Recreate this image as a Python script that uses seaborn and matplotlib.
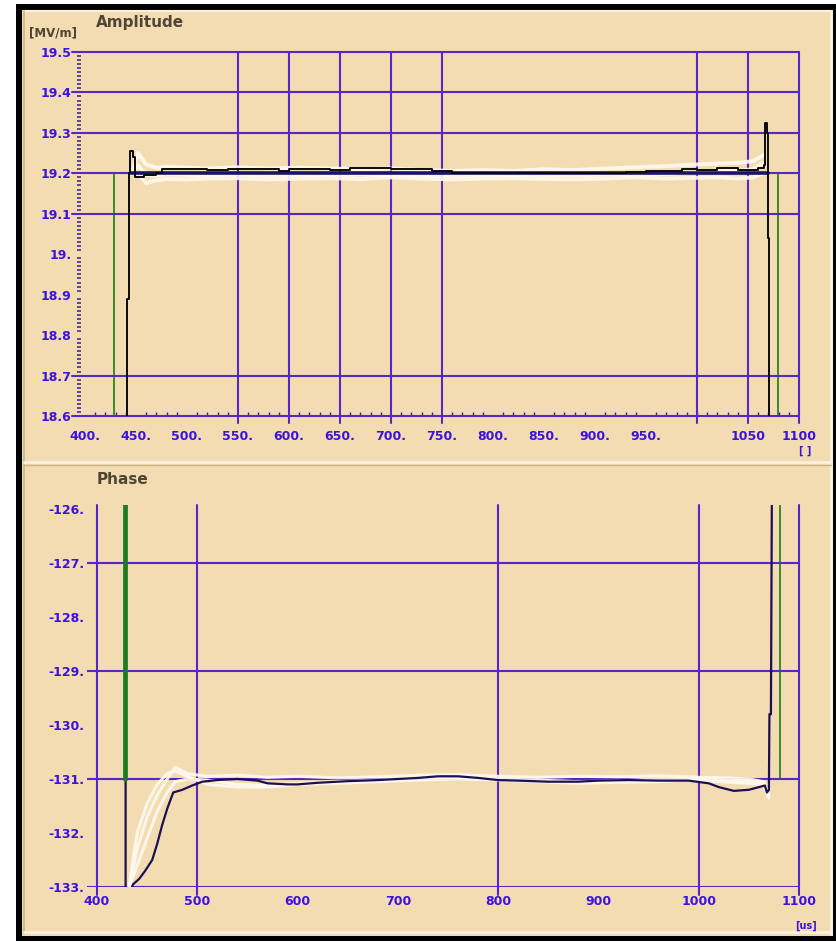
import matplotlib
matplotlib.use("Agg")
import matplotlib.pyplot as plt
from matplotlib.patches import Rectangle
from matplotlib.lines import Line2D
from matplotlib.ticker import MultipleLocator
import seaborn as sns

# ---------------- data ----------------
# Amplitude panel [MV/m] vs time [us]
amp_xticks = [400, 450, 500, 550, 600, 650, 700, 750, 800, 850, 900, 950, 1050, 1100]
amp_xlabels = ["400.", "450.", "500.", "550.", "600.", "650.", "700.", "750.",
               "800.", "850.", "900.", "950.", "1050", "1100"]
amp_yticks = [19.5, 19.4, 19.3, 19.2, 19.1, 19.0, 18.9, 18.8, 18.7, 18.6]
amp_ylabels = ["19.5", "19.4", "19.3", "19.2", "19.1", "19.", "18.9", "18.8", "18.7", "18.6"]
amp_vgrid = [550, 600, 650, 700, 750, 1000, 1050, 1100]
amp_hgrid = [19.5, 19.4, 19.3, 19.2, 19.1, 18.7, 18.6]

amp_set_t = [428.5, 428.5, 1079.5, 1079.5]
amp_set_v = [18.5, 19.2, 19.2, 18.5]

amp_ref_t = [445, 1070]
amp_ref_v = [19.2, 19.2]

amp_meas_t = [441, 441, 443, 444, 447, 449, 458, 470, 476, 520, 540, 590, 600, 640,
              660, 700, 740, 760, 930, 950, 985, 1000, 1020, 1040, 1060, 1066, 1067,
              1069, 1070, 1071]
amp_meas_v = [18.5, 18.89, 19.2, 19.255, 19.24, 19.19, 19.195, 19.2, 19.21, 19.208,
              19.21, 19.207, 19.21, 19.208, 19.212, 19.21, 19.205, 19.2, 19.203,
              19.207, 19.21, 19.208, 19.212, 19.209, 19.213, 19.22, 19.325, 19.3,
              19.04, 18.5]

amp_hist_t = [446, 452, 460, 470, 480, 500, 520, 550, 580, 610, 640, 670, 700, 730,
              760, 790, 820, 850, 880, 910, 940, 970, 1000, 1020, 1040, 1055, 1065]
amp_hist_1 = [19.2, 19.25, 19.222, 19.214, 19.216, 19.214, 19.212, 19.215, 19.212,
              19.214, 19.212, 19.21, 19.212, 19.208, 19.206, 19.208, 19.206, 19.21,
              19.208, 19.212, 19.215, 19.218, 19.222, 19.224, 19.226, 19.23, 19.245]
amp_hist_2 = [19.2, 19.2, 19.176, 19.183, 19.186, 19.185, 19.187, 19.188, 19.185,
              19.187, 19.188, 19.186, 19.19, 19.187, 19.185, 19.187, 19.188, 19.186,
              19.185, 19.187, 19.19, 19.187, 19.189, 19.19, 19.187, 19.19, 19.2]
amp_hist_3 = [19.2, 19.22, 19.196, 19.194, 19.197, 19.196, 19.195, 19.197, 19.194,
              19.196, 19.195, 19.197, 19.195, 19.193, 19.192, 19.195, 19.194, 19.196,
              19.195, 19.197, 19.199, 19.198, 19.202, 19.205, 19.207, 19.21, 19.225]

# Phase panel [deg] vs time [us]
ph_xticks = [400, 500, 600, 700, 800, 900, 1000, 1100]
ph_xlabels = ["400", "500", "600", "700", "800", "900", "1000", "1100"]
ph_yticks = [-126, -127, -128, -129, -130, -131, -132, -133]
ph_ylabels = ["-126.", "-127.", "-128.", "-129.", "-130.", "-131.", "-132.", "-133."]
ph_vgrid = [400, 500, 800, 1000, 1100]
ph_hgrid = [-127, -129, -131, -133]

ph_set_t = [428, 428, 1081, 1081]
ph_set_v = [-125.5, -131.0, -131.0, -125.5]

ph_meas_t = [428.5, 428.5, 436, 442, 448, 455, 460, 465, 470, 476, 485, 495, 505, 520,
             540, 560, 570, 590, 600, 620, 650, 680, 700, 720, 740, 760, 780, 800,
             820, 850, 880, 900, 930, 960, 990, 1010, 1020, 1035, 1050, 1060, 1066,
             1068, 1070, 1070.5, 1072, 1073]
ph_meas_v = [-125.5, -133.3, -132.95, -132.85, -132.7, -132.5, -132.2, -131.85,
             -131.55, -131.25, -131.2, -131.12, -131.05, -131.02, -131.0, -131.03,
             -131.08, -131.1, -131.1, -131.07, -131.04, -131.02, -131.0, -130.98,
             -130.95, -130.95, -130.98, -131.02, -131.03, -131.05, -131.05, -131.03,
             -131.02, -131.03, -131.03, -131.08, -131.15, -131.22, -131.2, -131.15,
             -131.12, -131.25, -131.2, -129.8, -129.8, -125.5]

ph_hist_t = [432, 440, 450, 460, 470, 478, 490, 510, 540, 570, 600, 640, 680, 720,
             760, 800, 840, 880, 920, 960, 1000, 1030, 1050, 1065, 1070]
ph_hist_1 = [-133.0, -132.3, -131.7, -131.3, -131.0, -130.78, -130.9, -130.95,
             -130.93, -130.97, -130.95, -130.98, -130.96, -130.93, -130.92, -130.95,
             -130.97, -130.95, -130.96, -130.94, -130.97, -130.98, -131.0, -131.05,
             -131.3]
ph_hist_2 = [-133.0, -132.6, -132.1, -131.6, -131.25, -131.05, -131.0, -131.02,
             -131.1, -131.12, -131.08, -131.05, -131.02, -130.98, -130.98, -131.0,
             -131.02, -131.05, -131.03, -131.0, -131.02, -131.06, -131.08, -131.12,
             -131.35]
ph_hist_3 = [-133.0, -132.0, -131.45, -131.1, -130.9, -130.85, -130.95, -131.1,
             -131.15, -131.15, -131.1, -131.08, -131.05, -131.02, -131.0, -131.02,
             -131.05, -131.08, -131.06, -131.05, -131.0, -131.02, -131.03, -131.08,
             -131.32]

# ---------------- style ----------------
W, H = 837, 942
BG = "#f3dcb2"
GRID = "#5526c8"
TICKC = "#3b12e0"
TITLEC = "#4e4535"
GREEN = "#3c8c28"
NAVY = "#1a1466"
BLACK = "#0a0a0a"
HIST = "#fffaf0"

sns.set_theme(style="white")
plt.rcParams["font.family"] = ["DejaVu Sans"]

fig = plt.figure(figsize=(W / 100, H / 100), dpi=100, facecolor="white")


def fx(px):
    return px / W


def fy(py):
    return 1 - py / H


# outer frame and panel background (drawn beneath the axes)
fig.patches.append(Rectangle((fx(16), fy(941)), fx(837 - 16 + 6), (941 - 4) / H,
                             transform=fig.transFigure, facecolor="black",
                             edgecolor="none", zorder=-3))
fig.patches.append(Rectangle((fx(22), fy(936)), fx(833 - 22), (936 - 10) / H,
                             transform=fig.transFigure, facecolor=BG,
                             edgecolor="none", zorder=-2))
for (x0, y0, x1, y1, c, lw) in [
    (24, 11, 831, 11, "#fbf1de", 1.5), (24, 11, 24, 934, "#c9b48a", 1.2),
    (831, 11, 831, 934, "#fbf1de", 2.0), (24, 462, 831, 462, "#fbf1de", 2.0),
    (24, 465, 831, 465, "#c9b48a", 1.0), (24, 932, 831, 932, "#fbf1de", 2.0),
]:
    fig.lines.append(Line2D([fx(x0), fx(x1)], [fy(y0), fy(y1)],
                            transform=fig.transFigure, color=c, lw=lw, zorder=-1))


def make_axes(left, top, right, bottom):
    ax = fig.add_axes([fx(left), fy(bottom), fx(right - left), (bottom - top) / H])
    ax.patch.set_visible(False)
    for s in ax.spines.values():
        s.set_visible(False)
    return ax


tick_font = dict(fontsize=9, fontweight="bold", color=TICKC)

# ---------------- amplitude panel ----------------
ax1 = make_axes(77, 52, 799, 416)
ax1.set_xlim(392.2, 1100)
ax1.set_ylim(18.6, 19.5)

for x in amp_vgrid:
    ax1.axvline(x, ymin=-0.02, ymax=1, color=GRID, lw=1.5, clip_on=False, zorder=1)
for y in amp_hgrid:
    ax1.axhline(y, xmin=-0.007, xmax=1, color=GRID, lw=1.5, clip_on=False, zorder=1)

sns.lineplot(x=amp_set_t, y=amp_set_v, ax=ax1, color=GREEN, lw=1.4,
             sort=False, estimator=None, zorder=0.5)
for series in (amp_hist_1, amp_hist_2, amp_hist_3):
    sns.lineplot(x=amp_hist_t, y=series, ax=ax1, color=HIST, lw=2.8, alpha=0.9,
                 sort=False, estimator=None, zorder=2)
sns.lineplot(x=amp_ref_t, y=amp_ref_v, ax=ax1, color=NAVY, lw=2.6,
             sort=False, estimator=None, zorder=4)
sns.lineplot(x=amp_meas_t, y=amp_meas_v, ax=ax1, color=BLACK, lw=1.4,
             sort=False, estimator=None, zorder=5, drawstyle="steps-post")

ax1.set_xticks(amp_xticks, amp_xlabels, **tick_font)
ax1.set_yticks(amp_yticks, amp_ylabels, **tick_font)
ax1.xaxis.set_minor_locator(MultipleLocator(10))
ax1.yaxis.set_minor_locator(MultipleLocator(0.01))
ax1.tick_params(which="major", length=0)
ax1.tick_params(axis="x", which="major", pad=10)
ax1.tick_params(axis="y", which="major", pad=4)
ax1.tick_params(axis="y", which="minor", direction="in", length=3, width=1.1,
                color="#3a2090", left=True, pad=0)
ax1.tick_params(axis="x", which="minor", direction="in", length=3, width=1.0,
                color="#3a2090", bottom=True)
ax1.set_xlabel("")
ax1.set_ylabel("")

fig.text(fx(96), fy(22), "Amplitude", fontsize=11, fontweight="bold",
         color=TITLEC, va="center", ha="left")
fig.text(fx(29), fy(33), "[MV/m]", fontsize=8.5, fontweight="bold",
         color=TITLEC, va="center", ha="left")
fig.text(fx(805), fy(451), "[ ]", fontsize=7, fontweight="bold",
         color=TICKC, va="center", ha="center")

# ---------------- phase panel ----------------
ax2 = make_axes(87, 505, 799, 887)
ax2.set_xlim(390, 1100)
ax2.set_ylim(-133, -125.926)

for x in ph_vgrid:
    ax2.axvline(x, ymin=-0.021, ymax=1, color=GRID, lw=1.5, clip_on=False, zorder=1)
for y in ph_hgrid:
    ax2.axhline(y, color=GRID, lw=1.5, zorder=1)

sns.lineplot(x=ph_set_t, y=ph_set_v, ax=ax2, color=GREEN, lw=1.4,
             sort=False, estimator=None, zorder=0.5)
for series in (ph_hist_1, ph_hist_2, ph_hist_3):
    sns.lineplot(x=ph_hist_t, y=series, ax=ax2, color=HIST, lw=2.2, alpha=0.9,
                 sort=False, estimator=None, zorder=2)
sns.lineplot(x=ph_meas_t, y=ph_meas_v, ax=ax2, color="#1c1050", lw=1.6,
             sort=False, estimator=None, zorder=5)
# pulse-start edge of the set point, drawn heavy on top of the measured trace
sns.lineplot(x=ph_set_t[:2], y=ph_set_v[:2], ax=ax2, color="#1f7a1f", lw=3.4,
             sort=False, estimator=None, zorder=6)

ax2.set_xticks(ph_xticks, ph_xlabels, **tick_font)
ax2.set_yticks(ph_yticks, ph_ylabels, **tick_font)
ax2.tick_params(which="major", length=0)
ax2.tick_params(axis="x", which="major", pad=6)
ax2.tick_params(axis="y", which="major", pad=2)
ax2.set_xlabel("")
ax2.set_ylabel("")

fig.text(fx(97), fy(480), "Phase", fontsize=11, fontweight="bold",
         color=TITLEC, va="center", ha="left")
fig.text(fx(806), fy(926), "[us]", fontsize=7, fontweight="bold",
         color=TICKC, va="center", ha="center")

fig.savefig("out.png", dpi=100, facecolor="white")
